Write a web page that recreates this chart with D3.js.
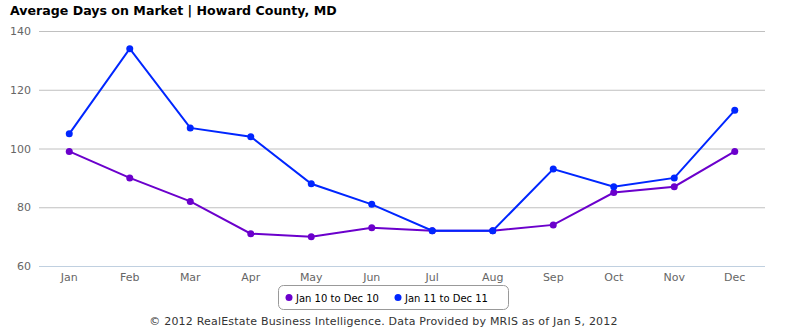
<!DOCTYPE html>
<html><head><meta charset="utf-8">
<script src="https://cdn.jsdelivr.net/npm/d3@7"></script>
<style>body{margin:0;background:#fff}svg{font-family:"DejaVu Sans",sans-serif}</style>
</head><body>
<svg id="c" width="785" height="330"></svg>
<script>
const months = ["Jan","Feb","Mar","Apr","May","Jun","Jul","Aug","Sep","Oct","Nov","Dec"];
const series2010 = [99,90,82,71,70,73,72,72,74,85,87,99];
const series2011 = [105,134,107,104,88,81,72,72,93,87,90,113];
const seriesNames = ["Jan 10 to Dec 10","Jan 11 to Dec 11"];
const yTicks = [60,80,100,120,140];
const colors = ["#6b00cc","#0026ff"];

(function(){
const svg = d3.select("#c");
const pl = 39, pr = 765, pt = 31, pb = 266;
const x = d3.scaleBand().domain(months).range([pl,pr]);
const y = d3.scaleLinear().domain([60,140]).range([pb,pt]);

svg.append("text").attr("x",10).attr("y",15).attr("font-weight","bold").attr("font-size",12.6).attr("fill","#000")
  .text("Average Days on Market | Howard County, MD");

const yAxis = svg.append("g").attr("transform",`translate(${pl},0)`)
  .call(d3.axisLeft(y).tickValues(yTicks).tickSize(-(pr-pl)).tickFormat(d3.format("d")));
yAxis.select(".domain").remove();
yAxis.selectAll(".tick line").attr("stroke","#c0c0c0");
yAxis.selectAll(".tick text").attr("fill","#666").attr("font-size",11).attr("x",-8).attr("font-family","DejaVu Sans");
yAxis.selectAll(".tick").filter(d=>d===60).select("line").attr("stroke","#c0d0e0");

const xAxis = svg.append("g").attr("transform",`translate(0,${pb})`)
  .call(d3.axisBottom(x).tickSize(0));
xAxis.select(".domain").remove();
xAxis.selectAll(".tick text").attr("fill","#666").attr("font-size",11).attr("dy","1.1em").attr("y",3).attr("font-family","DejaVu Sans");

[series2010, series2011].forEach((s,i)=>{
  const line = d3.line().x((d,j)=>x(months[j])+x.bandwidth()/2).y(d=>y(d));
  svg.append("path").datum(s).attr("d",line).attr("fill","none").attr("stroke",colors[i]).attr("stroke-width",2);
  svg.selectAll(null).data(s).enter().append("circle")
    .attr("cx",(d,j)=>x(months[j])+x.bandwidth()/2).attr("cy",d=>y(d)).attr("r",3.5).attr("fill",colors[i]);
});

const lg = svg.append("g");
lg.append("rect").attr("x",278.5).attr("y",285.5).attr("width",230).attr("height",24).attr("rx",5)
  .attr("fill","#fff").attr("stroke","#999");
const lx = [289,398];
seriesNames.forEach((n,i)=>{
  lg.append("circle").attr("cx",lx[i]).attr("cy",297.5).attr("r",3.5).attr("fill",colors[i]);
  lg.append("text").attr("x",lx[i]+7).attr("y",301.5).attr("font-size",10).attr("fill","#000").text(n);
});

svg.append("text").attr("x",383.5).attr("y",325).attr("text-anchor","middle").attr("font-size",11)
  .attr("fill","#333").attr("letter-spacing","0.2px")
  .text("© 2012 RealEstate Business Intelligence. Data Provided by MRIS as of Jan 5, 2012");
})();
</script>
</body></html>
